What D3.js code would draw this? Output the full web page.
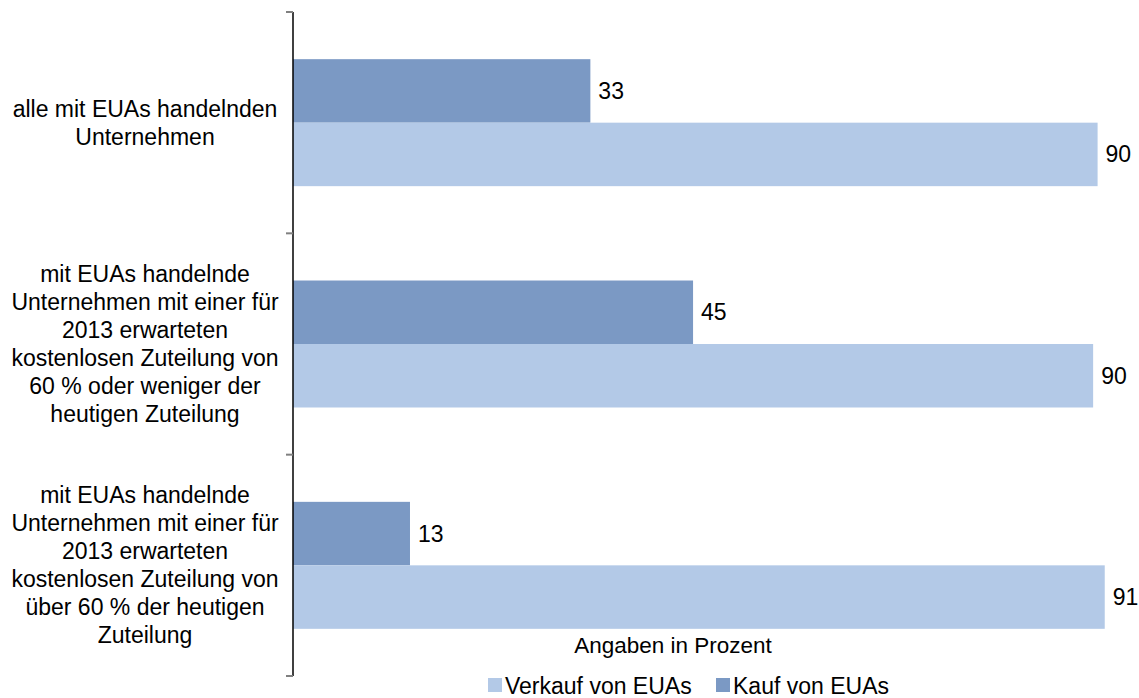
<!DOCTYPE html>
<html><head><meta charset="utf-8">
<script src="https://cdn.jsdelivr.net/npm/d3@7"></script>
<style>body{margin:0;background:#fff}svg{display:block;font-family:"Liberation Sans",Arial,sans-serif}</style>
</head><body><svg id="c" width="1139" height="698"></svg>
<script>
const categories = [
  ["alle mit EUAs handelnden","Unternehmen"],
  ["mit EUAs handelnde","Unternehmen mit einer für","2013 erwarteten","kostenlosen Zuteilung von","60 % oder weniger der","heutigen Zuteilung"],
  ["mit EUAs handelnde","Unternehmen mit einer für","2013 erwarteten","kostenlosen Zuteilung von","über 60 % der heutigen","Zuteilung"]
];
const seriesNames = ["Kauf von EUAs","Verkauf von EUAs"];
const kaufValues = [33.3, 44.8, 13.1];
const verkaufValues = [90.1, 89.6, 90.9];
const legendOrder = ["Verkauf von EUAs","Kauf von EUAs"];
const axisTitle = "Angaben in Prozent";
const colors = {"Kauf von EUAs":"#7b99c4","Verkauf von EUAs":"#b3c9e7"};

const svg = d3.select("#c");
const idx = d3.range(categories.length);
const y = d3.scaleBand().domain(idx).range([12, 676]).padding(0);
const yi = d3.scaleBand().domain(seriesNames).range([0, y.bandwidth()]).paddingInner(0).paddingOuter(0.743);
const x = d3.scaleLinear().domain([0, 100]).range([293, 1186]);

const data = [];
idx.forEach(i => {
  data.push({i, s: seriesNames[0], v: kaufValues[i]});
  data.push({i, s: seriesNames[1], v: verkaufValues[i]});
});

svg.selectAll("rect.bar").data(data).join("rect").attr("class","bar")
  .attr("x", x(0)).attr("y", d => y(d.i) + yi(d.s))
  .attr("width", d => x(d.v) - x(0)).attr("height", yi.bandwidth())
  .attr("fill", d => colors[d.s]);

svg.selectAll("text.val").data(data).join("text").attr("class","val")
  .attr("x", d => x(d.v) + 8).attr("y", d => y(d.i) + yi(d.s) + yi.bandwidth()/2)
  .attr("dy", "0.35em").attr("font-size", 23).attr("fill", "#000")
  .text(d => d3.format(".0f")(d.v));

// axis line and ticks
const boundaries = [...idx.map(i => y(i)), y(idx[idx.length-1]) + y.bandwidth()];
svg.append("line").attr("x1", 293).attr("x2", 293).attr("y1", 12).attr("y2", 676)
  .attr("stroke", "#000").attr("stroke-width", 1.5);
svg.selectAll("line.tick").data(boundaries).join("line").attr("class","tick")
  .attr("x1", 286).attr("x2", 293).attr("y1", d => d).attr("y2", d => d)
  .attr("stroke", "#808080").attr("stroke-width", 2);

// category labels
const lh = 28;
idx.forEach(i => {
  const lines = categories[i];
  const cy = y(i) + y.bandwidth()/2;
  const t = svg.append("text").attr("text-anchor","middle").attr("font-size", 23).attr("fill","#000");
  lines.forEach((ln, k) => {
    t.append("tspan").attr("x", 145).attr("y", cy + (k - (lines.length-1)/2) * lh).attr("dy","0.35em").text(ln);
  });
});

svg.append("text").attr("x", 673).attr("y", 645).attr("dy","0.35em").attr("text-anchor","middle")
  .attr("font-size", 22.5).attr("fill","#000").text(axisTitle);

// legend
const lx = [488, 716];
legendOrder.forEach((n, k) => {
  svg.append("rect").attr("x", lx[k]).attr("y", 678).attr("width", 14).attr("height", 14).attr("fill", colors[n]);
  svg.append("text").attr("x", lx[k] + 17).attr("y", 686).attr("dy","0.35em").attr("font-size", 23).attr("fill","#000").text(n);
});
</script></body></html>
